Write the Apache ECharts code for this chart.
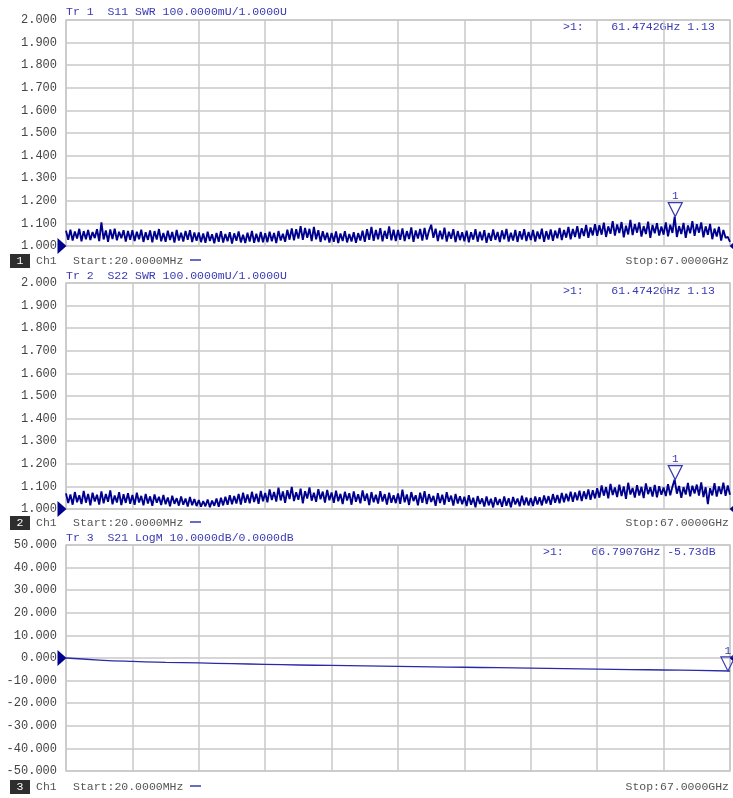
<!DOCTYPE html>
<html>
<head>
<meta charset="utf-8">
<title>VNA S-parameters</title>
<script src="https://cdn.jsdelivr.net/npm/echarts@6/dist/echarts.min.js"></script>
<style>
  html, body { margin: 0; padding: 0; background: #fff; }
  #chart { width: 733px; height: 798px; }
</style>
</head>
<body>
<div id="chart"></div>
<script>
// sweep: 20 MHz .. 67 GHz, 301 points
var startGHz = 0.02
var stopGHz = 67

var swrTicks = ['1.000', '1.100', '1.200', '1.300', '1.400', '1.500', '1.600', '1.700', '1.800', '1.900', '2.000']
var logmTicks = ['-50.000', '-40.000', '-30.000', '-20.000', '-10.000', '0.000', '10.000', '20.000', '30.000', '40.000', '50.000']

// Tr 1 S11 SWR
var s11 = [
  1.068, 1.028, 1.072, 1.024, 1.064, 1.033, 1.076, 1.021, 1.066, 1.030, 1.071, 1.026, 1.062, 1.035, 1.074, 1.022, 1.105, 1.029, 1.069, 1.019, 1.073, 1.031, 1.077, 1.025, 1.063, 1.034, 1.070, 1.020, 1.067, 1.027,
  1.070, 1.022, 1.063, 1.030, 1.072, 1.018, 1.061, 1.027, 1.069, 1.016, 1.066, 1.029, 1.075, 1.021, 1.058, 1.019, 1.068, 1.026, 1.062, 1.015, 1.071, 1.024, 1.059, 1.020, 1.067, 1.028, 1.070, 1.017, 1.060, 1.023,
  1.060, 1.017, 1.055, 1.014, 1.063, 1.022, 1.052, 1.012, 1.058, 1.019, 1.066, 1.015, 1.053, 1.021, 1.061, 1.011, 1.056, 1.023, 1.064, 1.016, 1.050, 1.013, 1.059, 1.020, 1.067, 1.014, 1.054, 1.018, 1.062, 1.016,
  1.057, 1.017, 1.063, 1.021, 1.058, 1.013, 1.066, 1.024, 1.054, 1.019, 1.072, 1.028, 1.078, 1.025, 1.074, 1.033, 1.088, 1.027, 1.080, 1.036, 1.076, 1.022, 1.084, 1.030, 1.070, 1.018, 1.065, 1.026, 1.059, 1.015,
  1.058, 1.019, 1.064, 1.013, 1.055, 1.022, 1.066, 1.016, 1.053, 1.020, 1.061, 1.014, 1.057, 1.024, 1.068, 1.018, 1.074, 1.027, 1.085, 1.023, 1.071, 1.030, 1.079, 1.021, 1.067, 1.032, 1.087, 1.025, 1.072, 1.022,
  1.071, 1.027, 1.078, 1.022, 1.066, 1.031, 1.082, 1.018, 1.069, 1.033, 1.075, 1.024, 1.080, 1.029, 1.067, 1.094, 1.036, 1.077, 1.022, 1.068, 1.030, 1.081, 1.020, 1.063, 1.032, 1.074, 1.017, 1.066, 1.026, 1.061,
  1.021, 1.068, 1.016, 1.061, 1.028, 1.074, 1.019, 1.063, 1.025, 1.070, 1.014, 1.058, 1.023, 1.073, 1.027, 1.062, 1.017, 1.069, 1.030, 1.076, 1.020, 1.059, 1.024, 1.071, 1.018, 1.065, 1.029, 1.074, 1.022, 1.062,
  1.026, 1.071, 1.020, 1.064, 1.031, 1.077, 1.018, 1.066, 1.029, 1.073, 1.023, 1.068, 1.034, 1.080, 1.026, 1.071, 1.037, 1.084, 1.030, 1.075, 1.040, 1.088, 1.033, 1.079, 1.044, 1.093, 1.036, 1.082, 1.047, 1.097,
  1.045, 1.092, 1.050, 1.103, 1.040, 1.087, 1.054, 1.110, 1.046, 1.095, 1.057, 1.106, 1.038, 1.090, 1.051, 1.116, 1.048, 1.097, 1.059, 1.104, 1.042, 1.088, 1.053, 1.108, 1.036, 1.093, 1.056, 1.101, 1.046, 1.086,
  1.050, 1.104, 1.043, 1.094, 1.058, 1.130, 1.040, 1.088, 1.053, 1.102, 1.036, 1.091, 1.056, 1.110, 1.045, 1.096, 1.059, 1.104, 1.038, 1.087, 1.050, 1.098, 1.030, 1.077, 1.042, 1.085, 1.024, 1.071, 1.036, 1.040, 1.018
]

// Tr 2 S22 SWR
var s22 = [
  1.069, 1.026, 1.064, 1.019, 1.075, 1.030, 1.061, 1.022, 1.080, 1.028, 1.067, 1.016, 1.072, 1.033, 1.063, 1.020, 1.078, 1.025, 1.066, 1.032, 1.082, 1.021, 1.060, 1.029, 1.074, 1.017, 1.065, 1.027, 1.070, 1.023,
  1.062, 1.019, 1.072, 1.029, 1.058, 1.016, 1.067, 1.024, 1.056, 1.014, 1.064, 1.028, 1.054, 1.018, 1.062, 1.021, 1.051, 1.012, 1.059, 1.023, 1.048, 1.015, 1.055, 1.019, 1.046, 1.011, 1.053, 1.017, 1.044, 1.013,
  1.040, 1.010, 1.035, 1.012, 1.042, 1.008, 1.037, 1.014, 1.046, 1.010, 1.050, 1.016, 1.054, 1.019, 1.061, 1.021, 1.057, 1.024, 1.067, 1.020, 1.072, 1.028, 1.064, 1.025, 1.076, 1.031, 1.068, 1.023, 1.080, 1.034,
  1.071, 1.030, 1.087, 1.040, 1.075, 1.033, 1.094, 1.038, 1.078, 1.027, 1.083, 1.044, 1.098, 1.035, 1.074, 1.041, 1.090, 1.025, 1.079, 1.046, 1.095, 1.037, 1.072, 1.032, 1.088, 1.043, 1.077, 1.028, 1.084, 1.039,
  1.073, 1.027, 1.081, 1.034, 1.067, 1.022, 1.076, 1.038, 1.070, 1.019, 1.078, 1.032, 1.065, 1.025, 1.082, 1.036, 1.068, 1.017, 1.075, 1.030, 1.063, 1.024, 1.079, 1.033, 1.066, 1.020, 1.072, 1.028, 1.061, 1.026,
  1.069, 1.023, 1.086, 1.030, 1.064, 1.018, 1.075, 1.035, 1.061, 1.016, 1.072, 1.027, 1.079, 1.022, 1.066, 1.031, 1.058, 1.014, 1.070, 1.026, 1.063, 1.019, 1.074, 1.032, 1.059, 1.015, 1.067, 1.024, 1.056, 1.021,
  1.054, 1.013, 1.061, 1.019, 1.050, 1.008, 1.057, 1.022, 1.047, 1.011, 1.055, 1.016, 1.045, 1.007, 1.052, 1.018, 1.044, 1.010, 1.056, 1.014, 1.048, 1.008, 1.053, 1.020, 1.046, 1.012, 1.059, 1.017, 1.051, 1.015,
  1.049, 1.013, 1.055, 1.020, 1.052, 1.016, 1.060, 1.024, 1.057, 1.019, 1.066, 1.028, 1.062, 1.025, 1.071, 1.030, 1.067, 1.034, 1.077, 1.032, 1.073, 1.039, 1.081, 1.035, 1.078, 1.044, 1.087, 1.041, 1.083, 1.047,
  1.092, 1.050, 1.104, 1.059, 1.097, 1.047, 1.111, 1.062, 1.095, 1.053, 1.108, 1.057, 1.100, 1.045, 1.116, 1.064, 1.093, 1.051, 1.105, 1.060, 1.098, 1.048, 1.113, 1.066, 1.096, 1.055, 1.107, 1.052, 1.101, 1.063,
  1.095, 1.057, 1.110, 1.061, 1.099, 1.130, 1.068, 1.102, 1.050, 1.097, 1.064, 1.115, 1.056, 1.103, 1.069, 1.108, 1.059, 1.118, 1.053, 1.096, 1.022, 1.092, 1.060, 1.114, 1.055, 1.100, 1.066, 1.117, 1.058, 1.104, 1.063
]

// Tr 3 S21 LogM (dB), read at each half division
var s21Freq = [0.02, 3.37, 6.72, 10.07, 13.42, 16.77, 20.11, 23.46, 26.81, 30.16, 33.51, 36.86, 40.21, 43.55, 46.9, 50.25, 53.6, 56.95, 60.3, 63.65, 67.0]
var s21 = [0, -0.9, -1.5, -1.9, -2.2, -2.5, -2.8, -3.1, -3.3, -3.5, -3.7, -3.9, -4.1, -4.3, -4.5, -4.7, -4.9, -5.1, -5.3, -5.5, -5.75]

// markers
var mk1 = [61.4742, 1.13]
var mk2 = [61.4742, 1.13]
var mk3 = [66.7907, -5.73]

var sweep = s11.map(function (v, i) { return startGHz + i * (stopGHz - startGHz) / (s11.length - 1) })

var traceColor = '#00008f'
var annColor = '#3a3ab4'
var gridColor = '#c8c8c8'
var monoFont = '"Liberation Mono", "DejaVu Sans Mono", monospace'

var tops = [20, 283, 545]
var plotH = 226

function pair(xs, ys) {
  return ys.map(function (v, i) { return [xs[i], v] })
}

function markers(refY, mk) {
  return {
    silent: true,
    animation: false,
    data: [
      {
        coord: [startGHz, refY],
        symbol: 'path://M0,0 L10,8 L0,16 Z',
        symbolSize: [9, 16],
        symbolOffset: [-4, 0],
        itemStyle: { color: traceColor },
        label: { show: false }
      },
      {
        coord: [stopGHz, refY],
        symbol: 'path://M10,0 L0,8 L10,16 Z',
        symbolSize: [9, 16],
        symbolOffset: [4, 0],
        itemStyle: { color: traceColor },
        label: { show: false }
      },
      {
        coord: mk,
        symbol: 'path://M0,0 L14,0 L7,14 Z',
        symbolSize: [14, 14],
        symbolOffset: [0, -7],
        itemStyle: { color: 'rgba(255,255,255,0)', borderColor: annColor, borderWidth: 1.2 },
        label: {
          show: true,
          formatter: '1',
          position: 'top',
          distance: 0,
          color: annColor,
          fontFamily: monoFont,
          fontSize: 11
        }
      }
    ]
  }
}

function xAxisFor(i) {
  return {
    type: 'value',
    gridIndex: i,
    min: startGHz,
    max: stopGHz,
    interval: (stopGHz - startGHz) / 10,
    axisLine: { show: false },
    axisTick: { show: false },
    axisLabel: { show: false },
    splitLine: { show: true, lineStyle: { color: gridColor, width: 1.5 } }
  }
}

function yAxisFor(i, ticks) {
  var lo = parseFloat(ticks[0])
  var hi = parseFloat(ticks[ticks.length - 1])
  return {
    type: 'value',
    gridIndex: i,
    min: lo,
    max: hi,
    interval: (hi - lo) / (ticks.length - 1),
    axisLine: { show: false },
    axisTick: { show: false },
    axisLabel: {
      margin: 9,
      color: '#444',
      fontFamily: monoFont,
      fontSize: 12,
      formatter: function (v) {
        var idx = Math.round((v - lo) / (hi - lo) * (ticks.length - 1))
        return ticks[idx]
      }
    },
    splitLine: { show: true, lineStyle: { color: gridColor, width: 1.5 } }
  }
}

function txt(x, y, s, color, align) {
  return {
    type: 'text',
    x: x,
    y: y,
    silent: true,
    style: {
      text: s,
      fill: color,
      font: '11.5px ' + monoFont,
      textAlign: align || 'left',
      textVerticalAlign: 'middle'
    }
  }
}

function footer(n, y) {
  return [
    { type: 'rect', silent: true, shape: { x: 10, y: y - 7, width: 20, height: 14 }, style: { fill: '#2e2e2e' } },
    txt(20, y, String(n), '#fff', 'center'),
    txt(36, y, 'Ch1', '#555'),
    txt(73, y, 'Start:20.0000MHz', '#555'),
    { type: 'line', silent: true, shape: { x1: 190, y1: y - 1, x2: 201, y2: y - 1 }, style: { stroke: annColor, lineWidth: 1.5 } },
    txt(729, y, 'Stop:67.0000GHz', '#555', 'right')
  ]
}

var graphics = [].concat(
  [txt(66, 12, 'Tr 1  S11 SWR 100.0000mU/1.0000U', annColor)],
  [txt(563, 27, '>1:    61.4742GHz 1.13', annColor)],
  footer(1, 261),
  [txt(66, 276, 'Tr 2  S22 SWR 100.0000mU/1.0000U', annColor)],
  [txt(563, 291, '>1:    61.4742GHz 1.13', annColor)],
  footer(2, 523),
  [txt(66, 538, 'Tr 3  S21 LogM 10.0000dB/0.0000dB', annColor)],
  [txt(543, 552, '>1:    66.7907GHz -5.73dB', annColor)],
  footer(3, 787)
)

var chart = echarts.init(document.getElementById('chart'))

var option = {
  animation: false,
  backgroundColor: '#fff',
  grid: tops.map(function (t) {
    return { left: 66, top: t, width: 664, height: plotH, show: true, borderColor: gridColor, borderWidth: 1.5, backgroundColor: '#fff' }
  }),
  xAxis: [xAxisFor(0), xAxisFor(1), xAxisFor(2)],
  yAxis: [yAxisFor(0, swrTicks), yAxisFor(1, swrTicks), yAxisFor(2, logmTicks)],
  series: [
    {
      name: 'S11',
      type: 'line',
      xAxisIndex: 0,
      yAxisIndex: 0,
      data: pair(sweep, s11),
      symbol: 'none',
      lineStyle: { color: traceColor, width: 1.9 },
      markPoint: markers(1, mk1)
    },
    {
      name: 'S22',
      type: 'line',
      xAxisIndex: 1,
      yAxisIndex: 1,
      data: pair(sweep, s22),
      symbol: 'none',
      lineStyle: { color: traceColor, width: 1.9 },
      markPoint: markers(1, mk2)
    },
    {
      name: 'S21',
      type: 'line',
      xAxisIndex: 2,
      yAxisIndex: 2,
      data: pair(s21Freq, s21),
      symbol: 'none',
      smooth: true,
      lineStyle: { color: '#2a2aa8', width: 1.3 },
      markPoint: markers(0, mk3)
    }
  ],
  graphic: graphics
}

option && chart.setOption(option)
</script>
</body>
</html>
